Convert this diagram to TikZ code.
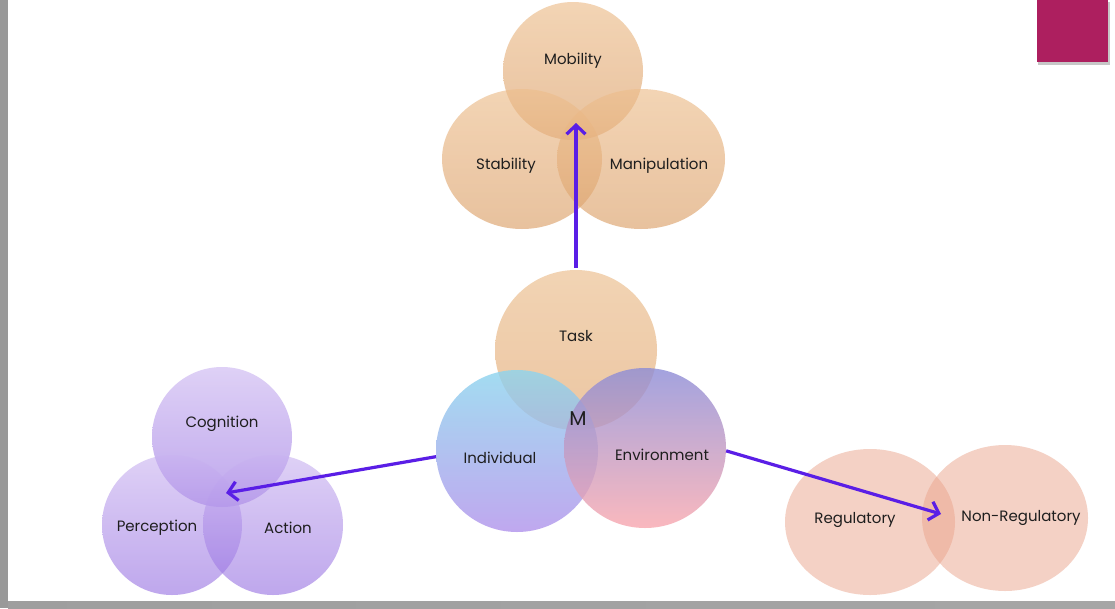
\documentclass[tikz,border=0pt]{standalone}
\usepackage{fontspec}
\setmainfont{Poppins}
\usetikzlibrary{shapes.geometric,arrows.meta}
\definecolor{arrowc}{RGB}{90,30,230}
\definecolor{txt}{RGB}{30,30,30}
\definecolor{mag}{RGB}{173,31,95}
\definecolor{peachT}{RGB}{237,190,141}
\definecolor{peachB}{RGB}{220,161,106}
\definecolor{taskT}{RGB}{239,201,161}
\definecolor{taskB}{RGB}{231,184,139}
\definecolor{indT}{RGB}{140,212,238}
\definecolor{indB}{RGB}{176,146,236}
\definecolor{envT}{RGB}{140,140,215}
\definecolor{envB}{RGB}{249,167,174}
\definecolor{lavT}{RGB}{201,178,240}
\definecolor{lavB}{RGB}{148,109,225}
\definecolor{salmon}{RGB}{235,165,141}
\begin{document}
\begin{tikzpicture}[x=1pt,y=-1pt,
  blob/.style={ellipse, inner sep=0pt, draw=none},
  peach/.style={blob, top color=peachT, bottom color=peachB, fill opacity=0.65},
  taskfill/.style={blob, top color=taskT, bottom color=taskB, fill opacity=0.8},
  indfill/.style={blob, top color=indT, bottom color=indB, fill opacity=0.8},
  envfill/.style={blob, top color=envT, bottom color=envB, fill opacity=0.8},
  lav/.style={blob, top color=lavT, bottom color=lavB, fill opacity=0.6},
  salm/.style={blob, fill=salmon, fill opacity=0.5},
  lbl/.style={font=\fontsize{15}{17}\selectfont, text=txt, inner sep=0pt},
  arr/.style={draw=arrowc, line width=3.2pt, -{Straight Barb[length=9pt,width=19pt]}}]
\useasboundingbox (0,0) rectangle (1115,608);
\fill[white] (0,0) rectangle (1115,608);
% frame strips
\fill[black!40] (0,0) rectangle (8,608);
\shade[left color=black!38, middle color=black!10, right color=black!35] (8,601) rectangle (1115,608);
% magenta square with shadow
\fill[black!22] (1038,2) rectangle (1110,65);
\fill[mag] (1037,0) rectangle (1108,62);

% top group
\node[peach, minimum width=140pt, minimum height=138pt] (mob) at (573,71) {};
\node[peach, minimum width=160pt, minimum height=140pt] (stab) at (522,159) {};
\node[peach, minimum width=168pt, minimum height=140pt] (manip) at (641,159) {};
\node[lbl] (mobT) at (573,61) {Mobility};
\node[lbl] (stabT) at (506,166) {Stability};
\node[lbl] (manipT) at (659,166) {Manipulation};

% center group
\node[taskfill, minimum width=162pt, minimum height=160pt] (task) at (576,350) {};
\node[indfill, minimum width=162pt, minimum height=162pt] (ind) at (517,451) {};
\node[envfill, minimum width=162pt, minimum height=160pt] (env) at (645,448) {};
\node[lbl] (taskT) at (576,336) {Task};
\node[lbl] (indT) at (500,458) {Individual};
\node[lbl] (envT) at (662,455) {Environment};
\node[lbl, font=\fontsize{20}{22}\selectfont] (mT) at (578,419) {M};

% left group
\node[lav, minimum width=140pt, minimum height=140pt] (cog) at (222,437) {};
\node[lav, minimum width=140pt, minimum height=140pt] (perc) at (172,525) {};
\node[lav, minimum width=140pt, minimum height=140pt] (act) at (273,525) {};
\node[lbl] (cogT) at (222,424) {Cognition};
\node[lbl] (percT) at (157,528) {Perception};
\node[lbl] (actT) at (288,528) {Action};

% right group
\node[salm, minimum width=170pt, minimum height=146pt] (reg) at (870,522) {};
\node[salm, minimum width=166pt, minimum height=146pt] (nonreg) at (1005,518) {};
\node[lbl] (regT) at (855,520) {Regulatory};
\node[lbl] (nonregT) at (1021,518) {Non-Regulatory};

% arrows
\coordinate (tipTop) at (576,123);
\coordinate (tipLeft) at (226,493);
\coordinate (tipRight) at (941,514);
\draw[arr] ([yshift=2pt]task.north) -- (tipTop);
\draw[arr] (ind.184) -- (tipLeft);
\draw[arr] (env.-2) -- (tipRight);
\end{tikzpicture}
\end{document}
